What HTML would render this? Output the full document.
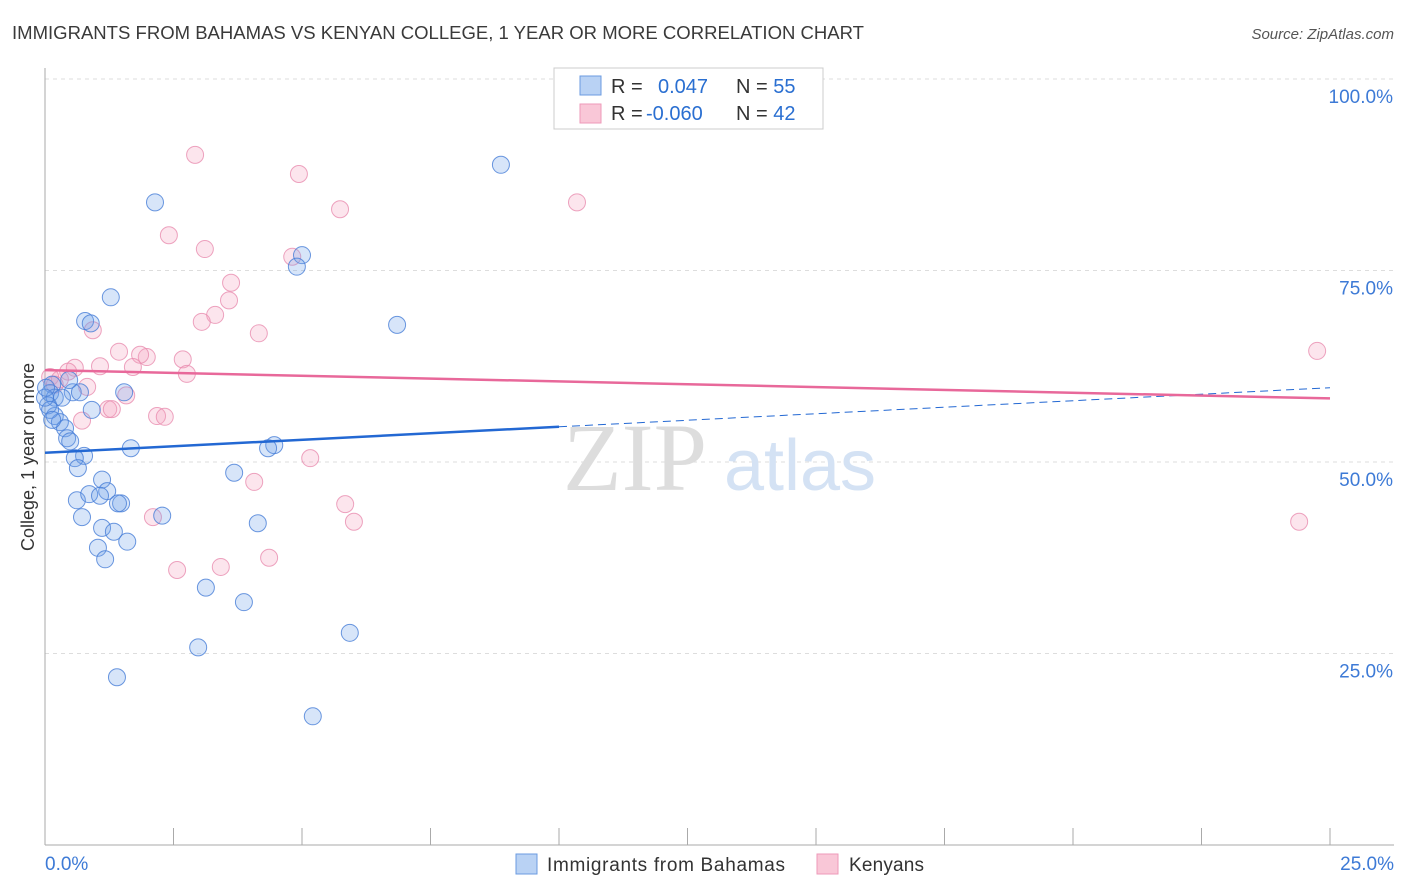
<!DOCTYPE html>
<html><head><meta charset="utf-8"><style>
body{margin:0;background:#fff;font-family:"Liberation Sans",sans-serif;}
svg{display:block}
</style></head><body>
<svg id="chart" width="1406" height="892">
<text x="12" y="39" font-size="18" fill="#3a3a3a" textLength="852" lengthAdjust="spacingAndGlyphs">IMMIGRANTS FROM BAHAMAS VS KENYAN COLLEGE, 1 YEAR OR MORE CORRELATION CHART</text>
<text x="1394" y="39" font-size="15" fill="#555" text-anchor="end" font-style="italic">Source: ZipAtlas.com</text>
<g id="grid"></g>
<text x="635" y="490" font-size="96" fill="#ddd" font-family="Liberation Serif,serif" text-anchor="middle">ZIP</text>
<text x="800" y="490" font-size="72" fill="#d4e2f4" text-anchor="middle">atlas</text>
<g id="axes"></g>
<g id="marks"></g>
<text transform="translate(34,457) rotate(-90)" font-size="18" fill="#333" text-anchor="middle">College, 1 year or more</text>
<g>
<rect x="554" y="68" width="269" height="61" fill="#fff" stroke="#ccc"/>
<rect x="580" y="76" width="21" height="19" fill="#b9d2f4" stroke="#6b9be0"/>
<rect x="580" y="104" width="21" height="19" fill="#f9c7d7" stroke="#ee9ab8"/>
<text x="611" y="93" font-size="20" fill="#333">R = <tspan fill="#2a6fd1" x="658">0.047</tspan><tspan fill="#333" x="736">N = </tspan><tspan fill="#2a6fd1">55</tspan></text>
<text x="611" y="120" font-size="20" fill="#333">R = <tspan fill="#2a6fd1" x="646">-0.060</tspan><tspan fill="#333" x="736">N = </tspan><tspan fill="#2a6fd1">42</tspan></text>
</g>
<g>
<rect x="516" y="854" width="21" height="20" fill="#b9d2f4" stroke="#6b9be0"/>
<text x="547" y="871" font-size="19" fill="#333" textLength="238">Immigrants from Bahamas</text>
<rect x="817" y="854" width="21" height="20" fill="#f9c7d7" stroke="#ee9ab8"/>
<text x="849" y="871" font-size="19" fill="#333" textLength="75">Kenyans</text>
</g>
</svg>
<script>
const blueX=[8.87,2.14,5.00,4.90,1.28,6.85,0.78,0.89,1.54,0.54,0.68,0.14,0.10,0.19,0.33,0.47,0.91,0.19,0.29,0.39,0.43,0.49,1.67,4.46,4.34,0.76,0.58,0.64,3.68,1.11,0.62,0.86,1.21,1.07,1.48,1.42,0.72,2.28,1.11,1.34,4.14,1.03,1.60,1.17,3.13,3.87,5.93,2.98,1.40,5.21,0.06,0.10,0.0,0.02,0.14];
const blueY=[88.8,83.9,77.0,75.5,71.5,67.9,68.4,68.1,59.1,59.1,59.1,60.1,59.0,58.4,58.4,60.7,56.8,56.0,55.2,54.4,53.1,52.7,51.8,52.2,51.8,50.8,50.5,49.2,48.6,47.7,45.0,45.8,46.2,45.6,44.6,44.6,42.8,43.0,41.4,40.9,42.0,38.8,39.6,37.3,33.6,31.7,27.7,25.8,21.9,16.8,57.4,56.8,58.4,59.7,55.5];
const pinkX=[2.92,4.94,5.74,10.35,2.41,3.11,3.62,3.58,4.81,3.31,3.05,4.16,0.93,1.44,1.98,1.85,2.68,2.76,1.71,1.07,0.58,0.45,0.29,0.82,1.58,0.10,0.19,1.23,1.30,2.18,2.33,0.72,5.16,4.07,5.84,6.01,2.10,24.75,24.40,4.36,2.57,3.42];
const pinkY=[90.1,87.6,83.0,83.9,79.6,77.8,73.4,71.1,76.8,69.2,68.3,66.8,67.2,64.4,63.7,64.0,63.4,61.5,62.4,62.5,62.3,61.8,60.8,59.8,58.7,61.1,60.1,56.9,56.9,56.0,55.9,55.4,50.5,47.4,44.5,42.2,42.8,64.5,42.2,37.5,35.9,36.3];
const blueTrend=[51.2,59.7];
const pinkTrend=[62.0,58.3];
const yTicks=[25,50,75,100];
const xTicks=[0,2.5,5,7.5,10,12.5,15,17.5,20,22.5,25];

const NS="http://www.w3.org/2000/svg";
const X=v=>45+v/25*1285;
const Y=v=>845-v/100*766;
function mk(tag,attrs,parent){const e=document.createElementNS(NS,tag);for(const k in attrs)e.setAttribute(k,attrs[k]);parent.appendChild(e);return e;}
const grid=document.getElementById('grid'),axes=document.getElementById('axes'),marks=document.getElementById('marks');
yTicks.forEach(t=>{
  const l=mk('line',{x1:45,x2:1394,y1:Y(t),y2:Y(t),stroke:'#ddd','stroke-dasharray':'4,4'},grid);
  
  
  const tx=mk('text',{x:1393,y:Y(t)+24,'font-size':19,fill:'#3d7ad6','text-anchor':'end'},axes);
  tx.textContent=t.toFixed(1)+'%';
  
  
});
const ya=mk('line',{x1:45,x2:45,y1:68,y2:845,stroke:'#aaa'},axes);


const xa=mk('line',{x1:45,x2:1394,y1:845,y2:845,stroke:'#aaa'},axes);


xTicks.forEach(t=>{
  const l=mk('line',{x1:X(t),x2:X(t),y1:828,y2:845,stroke:'#aaa'},axes);
  
  
});
[[0,'start',45],[25,'end',1394]].forEach(([t,a,px])=>{
  const tx=mk('text',{x:px,y:870,'font-size':19,fill:'#3d7ad6','text-anchor':a},axes);
  tx.textContent=t.toFixed(1)+'%';
  
  
});
pinkX.forEach((x,i)=>{
  const c=mk('circle',{cx:X(x),cy:Y(pinkY[i]),r:8.5,fill:'rgba(244,160,190,0.28)',stroke:'rgba(232,140,175,0.8)','stroke-width':1},marks);
  
  
});
blueX.forEach((x,i)=>{
  const c=mk('circle',{cx:X(x),cy:Y(blueY[i]),r:8.5,fill:'rgba(110,160,235,0.28)',stroke:'rgba(70,125,215,0.8)','stroke-width':1},marks);
  
  
});
const bAt=x=>blueTrend[0]+(blueTrend[1]-blueTrend[0])*x/25;
const pAt=x=>pinkTrend[0]+(pinkTrend[1]-pinkTrend[0])*x/25;
const bl=mk('line',{x1:X(0),y1:Y(bAt(0)),x2:X(10),y2:Y(bAt(10)),stroke:'#2368d3','stroke-width':2.5},marks);


const bd=mk('line',{x1:X(10),y1:Y(bAt(10)),x2:X(25),y2:Y(bAt(25)),stroke:'#2368d3','stroke-width':1,'stroke-dasharray':'8,5'},marks);


const pl=mk('line',{x1:X(0),y1:Y(pAt(0)),x2:X(25),y2:Y(pAt(25)),stroke:'#e8689a','stroke-width':2.5},marks);


</script>
</body></html>
